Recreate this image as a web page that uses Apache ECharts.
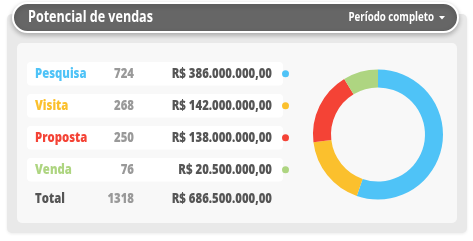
<!DOCTYPE html>
<html>
<head>
<meta charset="utf-8">
<script src="https://cdn.jsdelivr.net/npm/echarts@6/dist/echarts.min.js"></script>
<style>
  html, body { margin: 0; padding: 0; background: #fff; }
  #chart { width: 473px; height: 241px; }
</style>
</head>
<body>
<div id="chart"></div>
<script>
// Pipeline stages and their numbers
const stages  = ['Pesquisa', 'Visita', 'Proposta', 'Venda']
const counts  = [724, 268, 250, 76]
const amounts = [386000000, 142000000, 138000000, 20500000]
const colors  = ['#4fc3f7', '#fbc02d', '#f44336', '#aed581']
// donut shares (percent)
const donutShare = [55.3, 17.8, 18.2, 8.7]

const title  = 'Potencial de vendas'
const period = 'Período completo'

// no condensed face installed, so squeeze Open Sans horizontally
const FONT = '"Open Sans", sans-serif'
const SQ = 0.81

function brl(v) {
  const [int, dec] = v.toFixed(2).split('.')
  return 'R$ ' + int.replace(/\B(?=(\d{3})+(?!\d))/g, '.') + ',' + dec
}

function label(x, y, text, fill, size, align, weight) {
  return { type: 'text', z: 3, x, y, scaleX: SQ,
    style: { text, fill, font: (weight || 800) + ' ' + size + 'px ' + FONT,
      align: align || 'left', verticalAlign: 'middle' } }
}

const chart = echarts.init(document.getElementById('chart'), null, { renderer: 'canvas' })

const rowTop = 62, rowStep = 32, rowH = 23.5
const els = []

// card + inner panel
els.push({ type: 'rect', shape: { x: 7, y: 14, width: 460, height: 219, r: 5 },
  style: { fill: '#e9e9e9', shadowBlur: 3, shadowColor: 'rgba(0,0,0,0.08)', shadowOffsetY: 1 }, z: 0 })
els.push({ type: 'rect', shape: { x: 17, y: 43, width: 440, height: 180, r: 5 },
  style: { fill: '#f8f8f8' }, z: 1 })

// header pill
els.push({ type: 'rect', shape: { x: 13, y: 3, width: 445, height: 29, r: 14.5 },
  style: { fill: '#666666', stroke: '#ffffff', lineWidth: 2,
    shadowBlur: 5, shadowColor: 'rgba(0,0,0,0.25)', shadowOffsetY: 2 }, z: 2 })
els.push(label(28, 18, title, '#fff', 15.5, 'left', 700))
els.push(label(434, 17.5, period, '#fff', 12, 'right', 700))
els.push({ type: 'polygon', z: 3, shape: { points: [[439, 16], [445, 16], [442, 19.5]] }, style: { fill: '#fff' } })

// table rows
stages.forEach((s, i) => {
  const y = rowTop + i * rowStep
  const cy = y + rowH / 2
  els.push({ type: 'rect', z: 2, shape: { x: 27, y: y, width: 256, height: rowH, r: 4 }, style: { fill: '#fff' } })
  els.push(label(35, cy, s, colors[i], 14))
  els.push(label(134, cy, String(counts[i]), '#999', 14, 'right'))
  els.push(label(272, cy, brl(amounts[i]), '#555', 14, 'right'))
  els.push({ type: 'circle', z: 3, shape: { cx: 285.5, cy: cy, r: 3.5 }, style: { fill: colors[i] } })
})

// total line
const totalY = 199
els.push(label(35, totalY, 'Total', '#555', 14))
els.push(label(134, totalY, String(counts.reduce((a, b) => a + b, 0)), '#999', 14, 'right'))
els.push(label(272, totalY, brl(amounts.reduce((a, b) => a + b, 0)), '#555', 14, 'right'))

chart.setOption({
  animation: false,
  graphic: { elements: els },
  series: [{
    type: 'pie',
    z: 10,
    center: [378, 134.5],
    radius: [47, 65],
    startAngle: 90,
    clockwise: true,
    silent: true,
    label: { show: false },
    labelLine: { show: false },
    itemStyle: { borderWidth: 0 },
    data: stages.map((s, i) => ({ name: s, value: donutShare[i], itemStyle: { color: colors[i] } })),
  }],
})
</script>
</body>
</html>
